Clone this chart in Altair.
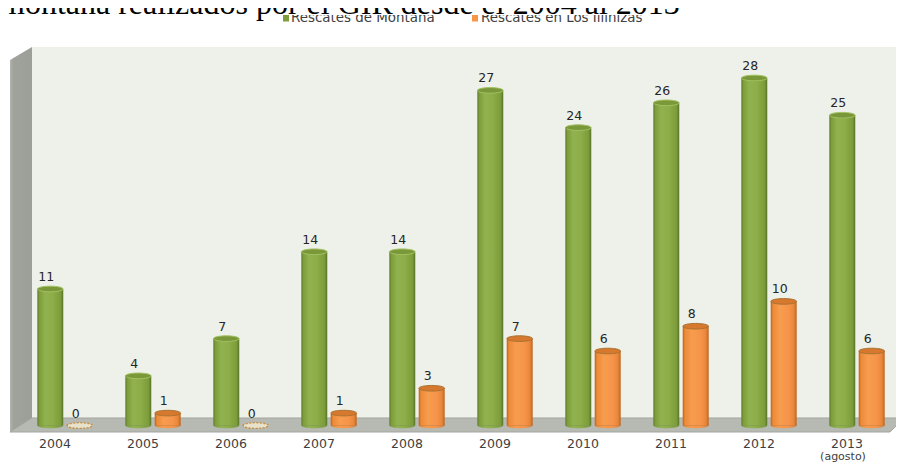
import altair as alt
import pandas as pd

years = ["2004", "2005", "2006", "2007", "2008", "2009", "2010", "2011", "2012", "2013"]
year_labels = ["2004", "2005", "2006", "2007", "2008", "2009", "2010", "2011", "2012", "2013"]
extra_label = "(agosto)"
montana = [11, 4, 7, 14, 14, 27, 24, 26, 28, 25]
illinizas = [0, 1, 0, 1, 3, 7, 6, 8, 10, 6]
series_names = ["Rescates de Montaña", "Rescates en Los Illinizas"]
title_text = "montaña realizados por el GIR desde el 2004 al 2013"

rows = []
for y, m, i in zip(years, montana, illinizas):
    rows.append({"year": y, "series": series_names[0], "value": m})
    rows.append({"year": y, "series": series_names[1], "value": i})
df = pd.DataFrame(rows)
labels_df = pd.DataFrame({"year": years, "label": year_labels})
extra_df = pd.DataFrame({"year": [years[-1]], "label": [extra_label]})

W, H = 888, 454
FONT = "DejaVu Sans"

x_scale = alt.Scale(domain=years, range=[13, 893], paddingInner=0.375, paddingOuter=0.1875)
xo_scale = alt.Scale(domain=series_names, paddingInner=0.13, paddingOuter=0)
y_scale = alt.Scale(domain=[0, 28], range=[417.5, 70], nice=False, zero=True)

X = alt.X("year:N", scale=x_scale, axis=None)
XO = alt.XOffset("series:N", scale=xo_scale)
Y = alt.Y("value:Q", scale=y_scale, axis=None)
Y0 = alt.Y("base:Q", scale=y_scale, axis=None)

def hgrad(stops):
    return alt.Gradient(gradient="linear", x1=0, x2=1, y1=0, y2=0,
                        stops=[alt.GradientStop(offset=o, color=c) for o, c in stops])

green_grad = hgrad([(0, "#5C7A2C"), (0.08, "#7E9E3C"), (0.3, "#91B24E"), (0.6, "#8CAD48"),
                    (0.9, "#7C9C3A"), (1, "#58742A")])
orange_grad = hgrad([(0, "#BF6520"), (0.08, "#EC8A38"), (0.35, "#F89C4E"), (0.7, "#F5944A"),
                     (0.9, "#E8863A"), (1, "#BC6220")])
side_grad = hgrad([(0, "#B2B4AE"), (0.15, "#A0A29C"), (1, "#9C9E98")])

one = alt.Data(values=[{"k": 1}])

TOP = "M-1,0A1,0.22,0,1,1,1,0A1,0.22,0,1,1,-1,0Z"
BOTTOM = "M-1,0A1,0.22,0,0,0,1,0Z"
SIZE = 655
SIDE = "M0,0L22,-13L22,358L0,372Z"
FLOOR = "M0,0L22,-14L894,-14L880,0Z"

back = alt.Chart(one).mark_rect(fill="#EEF1EA").encode(
    x=alt.value(24), x2=alt.value(W), y=alt.value(39), y2=alt.value(410))

side = alt.Chart(one).mark_point(
    shape=SIDE, size=4, filled=True, opacity=1, strokeWidth=0, fill=side_grad
).encode(x=alt.value(2), y=alt.value(52))

floor = alt.Chart(one).mark_point(
    shape=FLOOR, size=4, filled=True, opacity=1, fill="#B7B9B3",
    stroke="#A3A59F", strokeWidth=1
).encode(x=alt.value(2), y=alt.value(424))

def series_layers(name, grad, top_fill, top_stroke, edge):
    base = alt.Chart(df).transform_filter(
        (alt.datum.series == name) & (alt.datum.value > 0)
    ).transform_calculate(base="0")
    bottom = base.mark_point(shape=BOTTOM, size=SIZE, filled=True, opacity=1,
                             fill=grad, strokeWidth=0).encode(
        x=X, xOffset=XO, y=Y0)
    body = base.mark_bar(fill=grad, stroke=edge, strokeWidth=0.4, opacity=1).encode(
        x=X, xOffset=XO, y=Y)
    top = base.mark_point(shape=TOP, size=SIZE, filled=True, opacity=1,
                          fill=top_fill, stroke=top_stroke, strokeWidth=1).encode(
        x=X, xOffset=XO, y=Y)
    return [bottom, body, top]

green_layers = series_layers(series_names[0], green_grad, "#7A983A", "#A3C262", "#6A8A30")
orange_layers = series_layers(series_names[1], orange_grad, "#D6782E", "#A87432", "#C86C22")

zeros = alt.Chart(df).transform_filter(alt.datum.value == 0).mark_point(
    shape=TOP, size=SIZE, filled=True, opacity=1, fill="#E6E2CC",
    stroke="#C98C3C", strokeWidth=1.3, strokeDash=[2, 1.5]
).encode(x=X, xOffset=XO, y=Y)

value_labels = alt.Chart(df).mark_text(
    font=FONT, fontSize=12.5, color="#262626", baseline="alphabetic",
    align="center", dx=-4, dy=-8
).encode(x=X, xOffset=XO, y=Y, text="value:Q")

year_text = alt.Chart(labels_df).mark_text(
    font=FONT, fontSize=12.5, color="#404040", baseline="alphabetic",
    align="center", dx=-10
).encode(x=X, y=alt.value(440), text="label:N")

extra_text = alt.Chart(extra_df).mark_text(
    font=FONT, fontSize=11, color="#404040", baseline="alphabetic",
    align="center", dx=-14
).encode(x=X, y=alt.value(451.5), text="label:N")

leg_green = alt.Chart(one).mark_rect(fill="#7E9E3E").encode(
    x=alt.value(275), x2=alt.value(281), y=alt.value(7), y2=alt.value(13.5))
leg_orange = alt.Chart(one).mark_rect(fill="#F79646").encode(
    x=alt.value(464), x2=alt.value(470), y=alt.value(7), y2=alt.value(13.5))
leg_t1 = alt.Chart(one).mark_text(
    font=FONT, fontSize=13.4, color="#404040",
    align="left", baseline="alphabetic").encode(
    x=alt.value(283), y=alt.value(14), text=alt.value(series_names[0]))
leg_t2 = alt.Chart(one).mark_text(
    font=FONT, fontSize=13.4, color="#404040",
    align="left", baseline="alphabetic").encode(
    x=alt.value(473), y=alt.value(14), text=alt.value(series_names[1]))
cover = alt.Chart(one).mark_rect(fill="white").encode(
    x=alt.value(-8), x2=alt.value(W), y=alt.value(-8), y2=alt.value(7))
title = alt.Chart(one).mark_text(
    font="Liberation Serif", fontSize=32, color="black",
    align="left", baseline="alphabetic").encode(
    x=alt.value(-8), y=alt.value(6), text=alt.value(title_text))

chart = alt.layer(
    back, side, floor, *green_layers, *orange_layers, zeros, value_labels,
    year_text, extra_text, leg_green, leg_orange, leg_t1, leg_t2, cover, title
).properties(
    width=W, height=H, autosize=alt.AutoSizeParams(type="none"), padding=0,
    background="white"
).configure_view(stroke=None)

chart.save("out.html", embed_options={"renderer": "svg", "actions": False})
